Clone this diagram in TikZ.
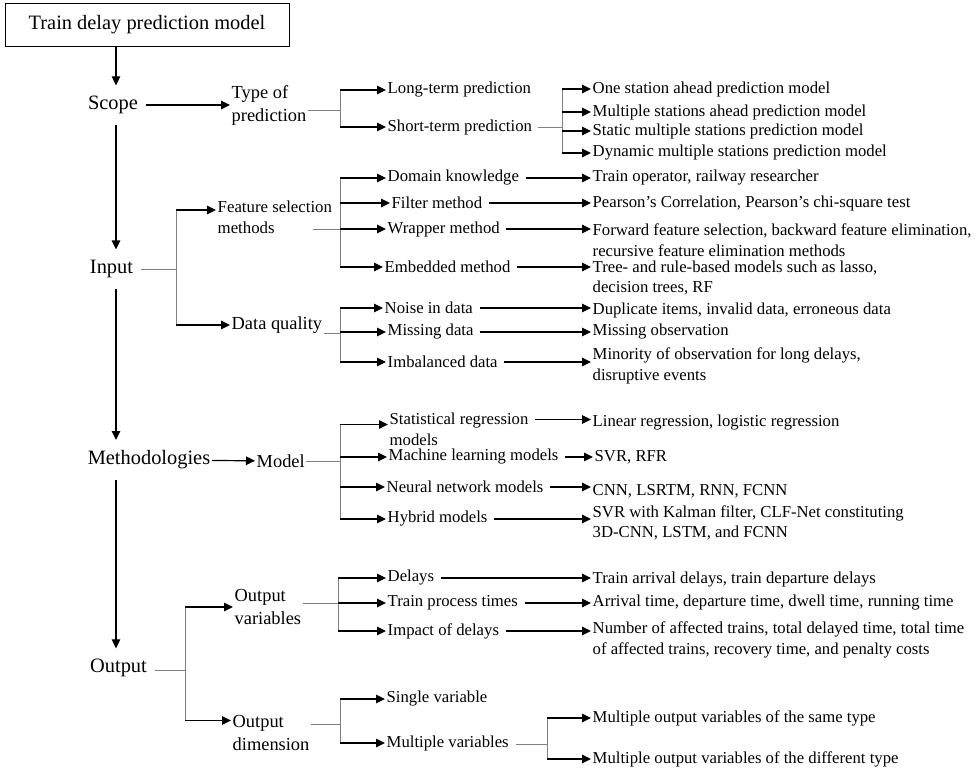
\documentclass[tikz,border=0pt]{standalone}
\usepackage{fontspec}
\setmainfont{Liberation Serif}
\usetikzlibrary{arrows.meta}

\tikzset{
    headtxt/.style={font=\fontsize{20.4}{24}\selectfont, inner sep=1.5pt},
    midtxt/.style={font=\fontsize{18.4}{23}\selectfont, align=left, anchor=west, inner sep=1.5pt},
    leaftxt/.style={font=\fontsize{16.7}{20.5}\selectfont, align=left, anchor=west, inner sep=1.5pt},
    feed/.style={draw=gray, line width=0.8pt},
    branch/.style={line width=1.2pt, -{Triangle[length=9pt,width=8.5pt]}},
    spine/.style={branch, shorten <=9pt, shorten >=9pt},
}

\begin{document}
\begin{tikzpicture}[x=1pt, y=-1pt]
    \useasboundingbox (0,0) rectangle (980,770);

    % Root and main column
    \node[headtxt, draw, line width=1pt, minimum width=284pt, minimum height=43pt] (title) at (147,25) {Train delay prediction model};
    \node[headtxt] (scope) at (113,105) {Scope};
    \node[headtxt] (input) at (111.5,269) {Input};
    \node[headtxt] (meth) at (149,460) {Methodologies};
    \node[headtxt] (output) at (118.5,668) {Output};
    \coordinate (spine) at (116,0);
    \draw[spine, shorten <=0pt] (title.south -| spine) -- (scope.north -| spine);
    \draw[spine] (scope.south -| spine) -- (input.north -| spine);
    \draw[spine] (input.south -| spine) -- (meth.north -| spine);
    \draw[spine] (meth.south -| spine) -- (output.north -| spine);

    % Scope
    \node[midtxt] (typ) at (230,105) {Type of\\prediction};
    \node[leaftxt] (long) at (386,90) {Long-term prediction};
    \node[leaftxt] (short) at (386,127) {Short-term prediction};
    \node[leaftxt] (one) at (591,89) {One station ahead prediction model};
    \node[leaftxt] (ahead) at (591,112) {Multiple stations ahead prediction model};
    \node[leaftxt] (static) at (591,131) {Static multiple stations prediction model};
    \node[leaftxt] (dyn) at (591,153) {Dynamic multiple stations prediction model};
    \coordinate (bTyp) at (340,110);
    \coordinate (bShort) at (562,127);
    \draw[branch, shorten <=6pt] (scope) -- (typ);
    \draw[feed] (typ.east |- bTyp) -- (bTyp);
    \draw[feed] (bTyp |- long.west) -- (bTyp |- short.west);
    \foreach \n in {long,short}
        \draw[branch] (bTyp |- \n.west) -- (\n.west);
    \draw[feed, shorten <=4pt] (short) -- (bShort);
    \draw[feed] (bShort |- one.west) -- (bShort |- dyn.west);
    \foreach \n in {one,ahead,static,dyn}
        \draw[branch] (bShort |- \n.west) -- (\n.west);

    % Input
    \node[leaftxt, font=\fontsize{16.8}{21}\selectfont] (feat) at (216,217.5) {Feature selection\\methods};
    \node[midtxt] (qual) at (230,325) {Data quality};
    \node[leaftxt] (dom) at (386,178) {Domain knowledge};
    \node[leaftxt] (filt) at (390,203) {Filter method};
    \node[leaftxt] (wrap) at (386,229) {Wrapper method};
    \node[leaftxt] (emb) at (383,267) {Embedded method};
    \node[leaftxt] (noise) at (383,308) {Noise in data};
    \node[leaftxt] (miss) at (386,332) {Missing data};
    \node[leaftxt] (imb) at (386,362) {Imbalanced data};
    \node[leaftxt] (oper) at (591,178) {Train operator, railway researcher};
    \node[leaftxt] (pear) at (591,203) {Pearson’s Correlation, Pearson’s chi-square test};
    \node[leaftxt] (fwd) at (591,240) {Forward feature selection, backward feature elimination,\\recursive feature elimination methods};
    \node[leaftxt] (tree) at (591,278) {Tree- and rule-based models such as lasso,\\decision trees, RF};
    \node[leaftxt] (dup) at (591,310) {Duplicate items, invalid data, erroneous data};
    \node[leaftxt] (mobs) at (591,332) {Missing observation};
    \node[leaftxt] (mino) at (591,366) {Minority of observation for long delays,\\disruptive events};
    \coordinate (bInp) at (176,269);
    \coordinate (bFeat) at (340,229);
    \coordinate (bQual) at (340,333);
    \coordinate (featin) at ([yshift=7.5pt]feat.west);
    \draw[feed, shorten <=6pt] (input.east |- bInp) -- (bInp);
    \draw[feed] (bInp |- featin) -- (bInp |- qual.west);
    \draw[branch] (bInp |- featin) -- (featin);
    \draw[branch] (bInp |- qual.west) -- (qual.west);
    \draw[feed] ([xshift=-21pt]feat.east |- bFeat) -- (bFeat);
    \draw[feed] (bFeat |- dom.west) -- (bFeat |- emb.west);
    \foreach \n in {dom,filt,wrap,emb}
        \draw[branch] (bFeat |- \n.west) -- (\n.west);
    \draw[feed] (qual.east |- bQual) -- (bQual);
    \draw[feed] (bQual |- noise.west) -- (bQual |- imb.west);
    \foreach \n in {noise,miss,imb}
        \draw[branch] (bQual |- \n.west) -- (\n.west);
    \foreach \a/\b in {dom/oper, filt/pear, wrap/fwd, emb/tree, noise/dup, miss/mobs, imb/mino}
        \draw[branch, shorten <=5pt] (\a.east) -- (\a.east -| \b.west);

    % Methodologies
    \node[midtxt] (model) at (255,461) {Model};
    \node[leaftxt, font=\fontsize{16.7}{21}\selectfont] (stat) at (388,429.5) {Statistical regression\\models};
    \node[leaftxt] (ml) at (387,457) {Machine learning models};
    \node[leaftxt] (nn) at (385,487) {Neural network models};
    \node[leaftxt] (hyb) at (386,519) {Hybrid models};
    \node[leaftxt] (lin) at (591,423) {Linear regression, logistic regression};
    \node[leaftxt] (svr) at (593,457) {SVR, RFR};
    \node[leaftxt] (cnn) at (591,491) {CNN, LSRTM, RNN, FCNN};
    \node[leaftxt] (kal) at (591,523) {SVR with Kalman filter, CLF-Net constituting\\3D-CNN, LSTM, and FCNN};
    \coordinate (bModel) at (340,461);
    \coordinate (statin) at ([yshift=5pt]stat.west);
    \draw[branch] (meth) -- (model);
    \draw[feed] (model) -- (bModel);
    \draw[feed] (bModel |- statin) -- (bModel |- hyb.west);
    \draw[branch] (bModel |- statin) -- (statin);
    \foreach \n in {ml,nn,hyb}
        \draw[branch] (bModel |- \n.west) -- (\n.west);
    \draw[branch, shorten <=5pt] ([yshift=10pt]stat.east) -- ([yshift=10pt]stat.east -| lin.west);
    \foreach \a/\b in {ml/svr, nn/cnn, hyb/kal}
        \draw[branch, shorten <=5pt] (\a.east) -- (\a.east -| \b.west);

    % Output
    \node[midtxt] (ovar) at (233,607) {Output\\variables};
    \node[midtxt] (odim) at (231,732.5) {Output\\dimension};
    \node[leaftxt] (dly) at (386,578) {Delays};
    \node[leaftxt] (proc) at (386,603) {Train process times};
    \node[leaftxt] (imp) at (386,631) {Impact of delays};
    \node[leaftxt] (single) at (385,699) {Single variable};
    \node[leaftxt] (multi) at (385,743) {Multiple variables};
    \node[leaftxt] (arr) at (591,580) {Train arrival delays, train departure delays};
    \node[leaftxt] (atime) at (591,603) {Arrival time, departure time, dwell time, running time};
    \node[leaftxt] (naff) at (591,640) {Number of affected trains, total delayed time, total time\\of affected trains, recovery time, and penalty costs};
    \node[leaftxt] (same) at (591,718) {Multiple output variables of the same type};
    \node[leaftxt] (diff) at (591,759) {Multiple output variables of the different type};
    \coordinate (bOut) at (185,670);
    \coordinate (bOvar) at (338,603);
    \coordinate (bOdim) at (340,724);
    \coordinate (bMulti) at (547,744);
    \coordinate (odimin) at ([yshift=12pt]odim.west);
    \draw[feed, shorten <=6pt] (output.east |- bOut) -- (bOut);
    \draw[feed] (bOut |- ovar.west) -- (bOut |- odimin);
    \draw[branch] (bOut |- ovar.west) -- (ovar.west);
    \draw[branch] (bOut |- odimin) -- (odimin);
    \draw[feed] (ovar.east |- bOvar) -- (bOvar);
    \draw[feed] (bOvar |- dly.west) -- (bOvar |- imp.west);
    \foreach \n in {dly,proc,imp}
        \draw[branch] (bOvar |- \n.west) -- (\n.west);
    \foreach \a/\b in {dly/arr, proc/atime, imp/naff}
        \draw[branch, shorten <=5pt] (\a.east) -- (\a.east -| \b.west);
    \draw[feed] (odim.east |- bOdim) -- (bOdim);
    \draw[feed] (bOdim |- single.west) -- (bOdim |- multi.west);
    \foreach \n in {single,multi}
        \draw[branch] (bOdim |- \n.west) -- (\n.west);
    \draw[feed, shorten <=6pt] (multi.east |- bMulti) -- (bMulti);
    \draw[feed] (bMulti |- same.west) -- (bMulti |- diff.west);
    \foreach \n in {same,diff}
        \draw[branch] (bMulti |- \n.west) -- (\n.west);
\end{tikzpicture}
\end{document}
